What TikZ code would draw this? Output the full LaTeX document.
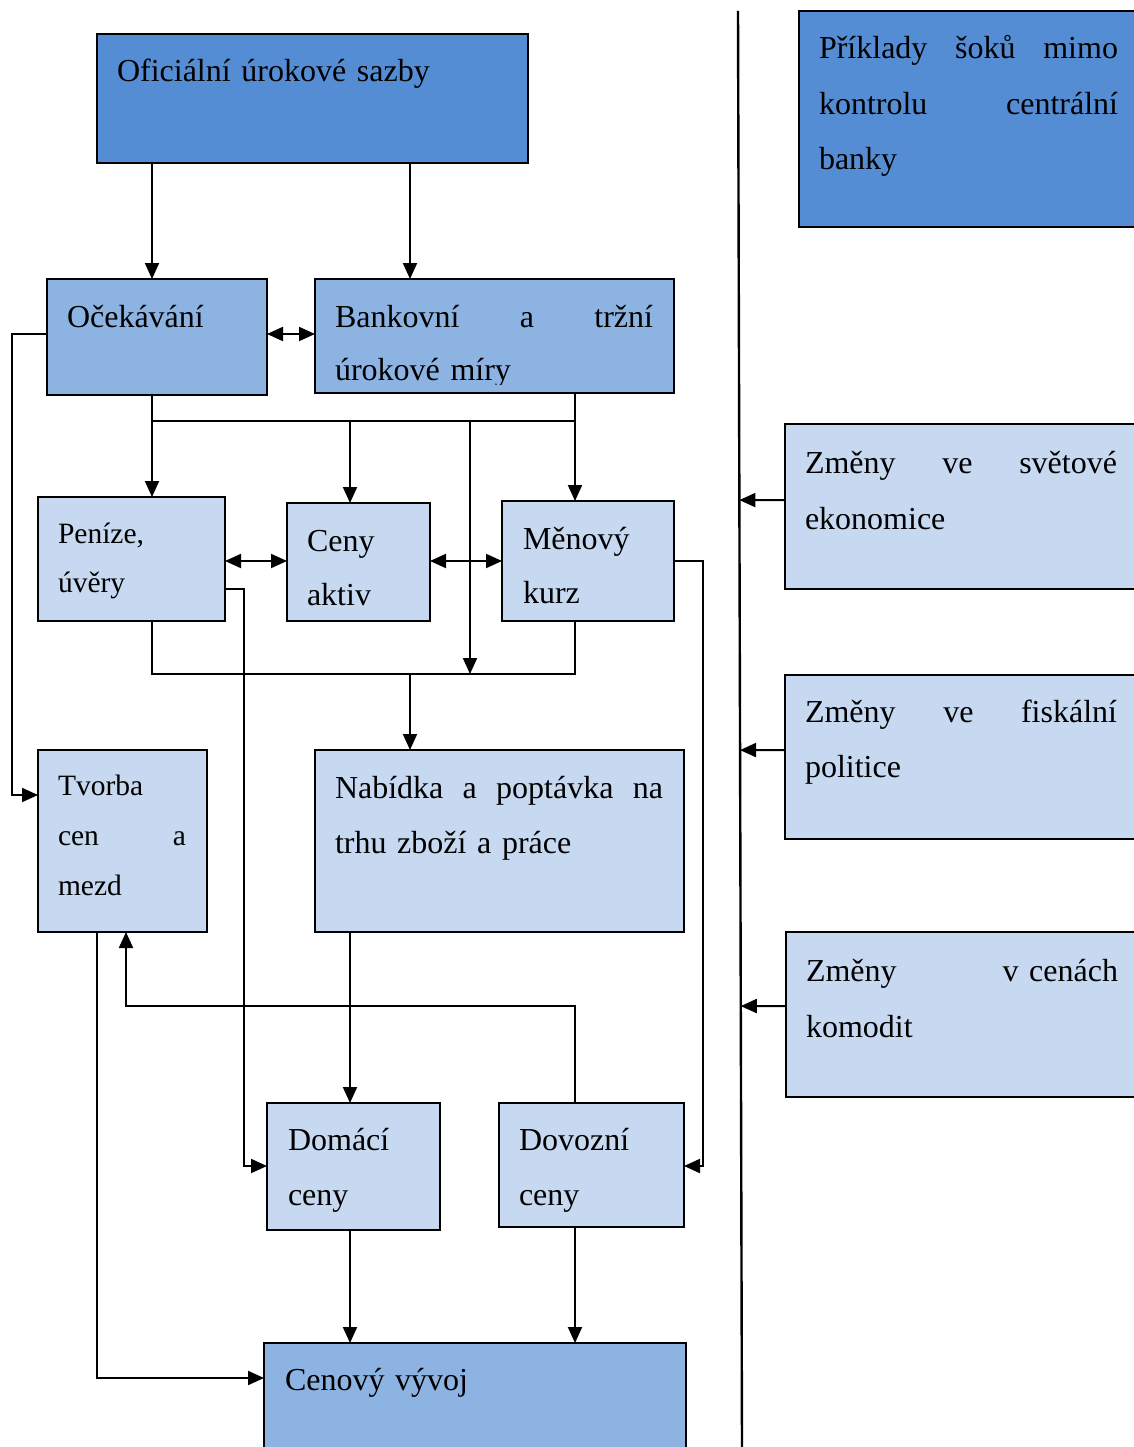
\documentclass[tikz,border=0pt]{standalone}
\usepackage{fontspec}
\setmainfont{Liberation Serif}
\usetikzlibrary{arrows.meta,calc}
\definecolor{cdark}{HTML}{548DD4}
\definecolor{cmid}{HTML}{8DB3E2}
\definecolor{clight}{HTML}{C6D9F1}
\newcommand\jline[2]{\leavevmode\hbox to #1{#2}}
\newcommand\tsz[2]{\fontsize{#1}{#2}\selectfont\spaceskip=0.17em plus 0.1em minus 0.05em\relax}
\tikzset{
  box/.style={draw, line width=2pt, rectangle, inner sep=0pt, outer sep=0pt, anchor=north west},
  txt/.style={anchor=base west, inner sep=0pt, outer sep=0pt, align=left, text width=340pt, font=\tsz{32}{55}},
  txts/.style={txt, font=\tsz{29.5}{50}},
  conn/.style={line width=2pt},
  arr/.style={conn, -{Triangle[length=16pt,width=14pt]}},
  darr/.style={conn, {Triangle[length=16pt,width=14pt]}-{Triangle[length=16pt,width=14pt]}},
}
\begin{document}
\begin{tikzpicture}[x=1pt,y=-1pt]
\useasboundingbox (0,0) rectangle (1134,1447);
\clip (0,0) rectangle (1134,1447);
% boxes
\node[box, fill=cdark, minimum width=431pt, minimum height=129pt] (ofi) at (97,34) {};
\node[box, fill=cmid, minimum width=220pt, minimum height=116pt] (oce) at (47,279) {};
\node[box, fill=cmid, minimum width=359pt, minimum height=114pt] (ban) at (315,279) {};
\node[box, fill=clight, minimum width=187pt, minimum height=124pt] (pen) at (38,497) {};
\node[box, fill=clight, minimum width=143pt, minimum height=118pt] (cen) at (287,503) {};
\node[box, fill=clight, minimum width=172pt, minimum height=120pt] (men) at (502,501) {};
\node[box, fill=clight, minimum width=169pt, minimum height=182pt] (tvo) at (38,750) {};
\node[box, fill=clight, minimum width=369pt, minimum height=182pt] (nab) at (315,750) {};
\node[box, fill=clight, minimum width=173pt, minimum height=127pt] (dom) at (267,1103) {};
\node[box, fill=clight, minimum width=185pt, minimum height=124pt] (dov) at (499,1103) {};
\node[box, fill=cmid, minimum width=422pt, minimum height=160pt] (cvy) at (264,1343) {};
\node[box, fill=cdark, minimum width=400pt, minimum height=216pt] (pri) at (799,11) {};
\node[box, fill=clight, minimum width=400pt, minimum height=165pt] (svt) at (785,424) {};
\node[box, fill=clight, minimum width=400pt, minimum height=164pt] (fis) at (785,675) {};
\node[box, fill=clight, minimum width=400pt, minimum height=165pt] (kom) at (786,932) {};
% texts
\node[txt] (tofi) at (117,82) {Oficiální úrokové sazby};
\node[txt] (toce) at (67,327) {Očekávání};
\begin{scope}
\clip (315,279) rectangle (674,384);
\node[txt, font=\tsz{32}{53}] (tban) at (335,327) {\jline{318pt}{Bankovní\hfill a\hfill tržní}\\úrokové míry};
\end{scope}
\node[txts, font=\tsz{29.5}{49}] (tpen) at (58,543) {Peníze,\\úvěry};
\node[txt, font=\tsz{32}{54}] (tcen) at (307,551) {Ceny\\aktiv};
\node[txt, font=\tsz{32}{54}] (tmen) at (523,549) {Měnový\\kurz};
\node[txts] (ttvo) at (58,795) {Tvorba\\\jline{128pt}{cen\hfill a}\\mezd};
\node[txt] (tnab) at (335,798) {\jline{328pt}{Nabídka\hfill a\hfill poptávka\hfill na}\\trhu zboží a práce};
\node[txt] (tdom) at (288,1150) {Domácí\\ceny};
\node[txt] (tdov) at (519,1150) {Dovozní\\ceny};
\node[txt] (tcvy) at (285,1390) {Cenový vývoj};
\node[txt, font=\tsz{32}{55.5}] (tpri) at (819,59) {\jline{299pt}{Příklady\hfill šoků\hfill mimo}\\\jline{299pt}{kontrolu\hfill centrální}\\banky};
\node[txt, font=\tsz{32}{56}] (tsvt) at (805,473) {\jline{312pt}{Změny\hfill ve\hfill světové}\\ekonomice};
\node[txt] (tfis) at (805,722) {\jline{312pt}{Změny\hfill ve\hfill fiskální}\\politice};
\node[txt, font=\tsz{32}{56}] (tkom) at (806,981) {\jline{312pt}{Změny\hfill v cenách}\\komodit};
% vertical divider
\coordinate (vtop) at (738,11);
\coordinate (vbot) at (742,1447);
\draw[line width=2.4pt] (vtop) -- (vbot);
% connectors
\draw[arr] (ofi.south -| 152,0) -- (oce.north -| 152,0);
\draw[arr] (ofi.south -| 410,0) -- (ban.north -| 410,0);
\draw[darr] (oce.east |- 0,334) -- (ban.west |- 0,334);
\coordinate (busTL) at (152,421);
\coordinate (busTR) at (575,421);
\coordinate (busBL) at (152,674);
\coordinate (busBR) at (575,674);
\draw[arr] (oce.south -| 152,0) -- (pen.north -| 152,0);
\draw[conn] (busTL) -- (busTR);
\draw[arr] (ban.south -| 575,0) -- (men.north -| 575,0);
\draw[arr] (busTL -| 350,0) -- (cen.north -| 350,0);
\draw[arr] (busTL -| 470,0) -- (busBL -| 470,0);
\draw[conn] (pen.south -| 152,0) -- (busBL) -- (busBR) -- (men.south -| 575,0);
\draw[arr] (busBL -| 410,0) -- (nab.north -| 410,0);
\draw[darr] (pen.east |- 0,561) -- (cen.west |- 0,561);
\draw[darr] (cen.east |- 0,561) -- (men.west |- 0,561);
\draw[arr] (oce.west |- 0,334) -| (12,795) -- (tvo.west |- 0,795);
\draw[arr] (pen.east |- 0,589) -| (244,1166) -- (dom.west |- 0,1166);
\draw[arr] (men.east |- 0,561) -| (703,1166) -- (dov.east |- 0,1166);
\draw[arr] (nab.south -| 350,0) -- (dom.north -| 350,0);
\draw[arr] (dov.north -| 575,0) |- (126,1006) -- (tvo.south -| 126,0);
\draw[arr] (tvo.south -| 97,0) |- (cvy.west |- 0,1378);
\draw[arr] (dom.south -| 350,0) -- (cvy.north -| 350,0);
\draw[arr] (dov.south -| 575,0) -- (cvy.north -| 575,0);
\draw[arr] (svt.west |- 0,500) -- ($(vtop)!(svt.west |- 0,500)!(vbot)$);
\draw[arr] (fis.west |- 0,750) -- ($(vtop)!(fis.west |- 0,750)!(vbot)$);
\draw[arr] (kom.west |- 0,1006) -- ($(vtop)!(kom.west |- 0,1006)!(vbot)$);
\end{tikzpicture}
\end{document}
